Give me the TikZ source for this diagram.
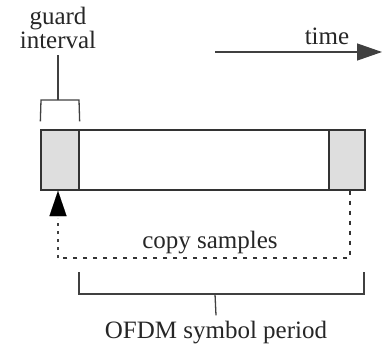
\documentclass[tikz,border=0pt]{standalone}
\usepackage{fontspec}
\setmainfont{Liberation Serif}
\usetikzlibrary{arrows.meta}
\begin{document}
\begin{tikzpicture}[x=1pt,y=-1pt,
  lbl/.style={inner sep=0pt,font=\fontsize{25}{24}\selectfont,text=black!85},
  seg/.style={draw=black!80,line width=1.3pt,minimum height=60pt,inner sep=0pt},
  shade/.style={seg,fill=black!13},
  brk/.style={draw=black!75,line width=1.3pt},
  cp/.style={draw=black!80,line width=1.4pt,dash pattern=on 4pt off 6pt},
  bigtip/.style={-{Triangle[length=25pt,width=17pt]}}
]
\useasboundingbox (0,0) rectangle (382,350);
% blocks
\node[shade,minimum width=38pt] (g) at (60,160) {};
\node[seg,minimum width=250pt] (body) at (204,160) {};
\node[shade,minimum width=36pt] (t) at (347,160) {};
% labels
\node[lbl,anchor=base] (gi1) at (58,25) {guard};
\node[lbl,anchor=base] (gi2) at (58,49) {interval};
\node[lbl,anchor=base] (tm) at (327,45) {time};
\node[lbl,anchor=base] (cs) at (210,248) {copy samples};
\node[lbl,anchor=base] (of) at (216,338) {OFDM symbol period};
% time arrow
\coordinate (ts) at (215,52);
\coordinate (te) at (382,52);
\draw[brk,bigtip] (ts) -- (te);
% guard bracket
\coordinate (gb) at (58,100);
\draw[brk] ([yshift=8pt]g.north west) -- (41,100) -- (79,100) -- ([yshift=8pt]g.north east);
\draw[brk] (gb) -- ([yshift=-6pt]gi2.south);
% symbol period bracket
\coordinate (sb) at (215,294);
\draw[brk] (79,272) -- (79,294) -- (364,294) -- (364,272);
\draw[brk] (sb) -- ([yshift=5pt]of.north);
% copy arrow
\coordinate (c1) at (350,258);
\coordinate (c2) at (58,258);
\draw[cp] (t.south -| c1) -- (c1) -- (c2);
\draw[brk,dash pattern=on 3pt off 5pt] (c2) -- (58,218);
\draw[draw=black,line width=0.1pt,fill=black] (58,191) -- (49.5,216) -- (66.5,216) -- cycle;
\end{tikzpicture}
\end{document}
